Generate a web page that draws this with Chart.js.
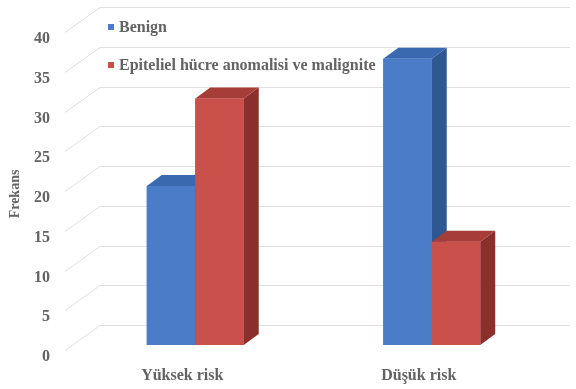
<!DOCTYPE html>
<html>
<head>
<meta charset="utf-8">
<script src="https://cdn.jsdelivr.net/npm/chart.js@4/dist/chart.umd.min.js"></script>
<style>
  html, body { margin: 0; padding: 0; background: #ffffff; }
  #wrap { width: 576px; height: 389px; }
</style>
</head>
<body>
<div id="wrap"><canvas id="chart" width="576" height="389"></canvas></div>
<script>
// Categories and series
const categories = ['Yüksek risk', 'Düşük risk'];
const seriesNames = ['Benign', 'Epiteliel hücre anomalisi ve malignite'];
const benign = [20, 36];
const epiteliel = [31, 13];
const yMin = 0;
const yMax = 40;
const yStep = 5;
const yTitle = 'Frekans';

// Face colours for the pseudo-3D columns: front, top, side
const faces = [
  { front: '#4a7cc7', top: '#3a69b0', side: '#2d5891' },
  { front: '#c9504b', top: '#a63d39', side: '#8a2f2c' }
];

const FONT = '"Liberation Serif", "Times New Roman", serif';
const TEXT = '#636363';
const GRID = '#e0e0e0';

// Depth of each column (oblique projection)
const DX = 15, DY = -11;
// Back wall offset relative to the column front plane
const WALL_X = 100, WALL_RIGHT = 570, WALL_DY = -20;
const FLOOR_X = 65, FLOOR_DY = 5;

const wallPlugin = {
  id: 'wall',
  beforeDatasetsDraw(chart) {
    const ctx = chart.ctx;
    const y = chart.scales.y;
    ctx.save();
    ctx.strokeStyle = GRID;
    ctx.lineWidth = 1;
    y.ticks.forEach(t => {
      const py = Math.round(y.getPixelForValue(t.value)) + 0.5;
      ctx.beginPath();
      ctx.moveTo(FLOOR_X, py + FLOOR_DY);
      ctx.lineTo(WALL_X, py + WALL_DY);
      ctx.lineTo(WALL_RIGHT, py + WALL_DY);
      ctx.stroke();
    });
    ctx.restore();
  }
};

const columnsPlugin = {
  id: 'columns3d',
  afterDatasetsDraw(chart) {
    const ctx = chart.ctx;
    const n = chart.data.datasets.length;
    const count = chart.data.labels.length;
    ctx.save();
    for (let j = 0; j < count; j++) {
      for (let i = 0; i < n; i++) {
        const bar = chart.getDatasetMeta(i).data[j];
        const { x, y, base, width } = bar.getProps(['x', 'y', 'base', 'width'], true);
        const l = x - width / 2, r = x + width / 2;
        const c = faces[i];
        // side face
        ctx.fillStyle = c.side;
        ctx.beginPath();
        ctx.moveTo(r, y);
        ctx.lineTo(r + DX, y + DY);
        ctx.lineTo(r + DX, base + DY);
        ctx.lineTo(r, base);
        ctx.closePath();
        ctx.fill();
        // top face
        ctx.fillStyle = c.top;
        ctx.beginPath();
        ctx.moveTo(l, y);
        ctx.lineTo(l + DX, y + DY);
        ctx.lineTo(r + DX, y + DY);
        ctx.lineTo(r, y);
        ctx.closePath();
        ctx.fill();
        // front face
        ctx.fillStyle = c.front;
        ctx.fillRect(l, y, width, base - y);
      }
    }
    ctx.restore();
  }
};

const legendPlugin = {
  id: 'insideLegend',
  afterDraw(chart) {
    const ctx = chart.ctx;
    ctx.save();
    ctx.font = 'bold 16px ' + FONT;
    ctx.textBaseline = 'middle';
    ctx.textAlign = 'left';
    chart.data.datasets.forEach((ds, i) => {
      const cy = 27 + i * 38;
      ctx.fillStyle = ds.backgroundColor;
      ctx.fillRect(108, cy - 3, 6, 6);
      ctx.fillStyle = TEXT;
      ctx.fillText(ds.label, 119, cy + 1);
    });
    // vertical axis title
    ctx.translate(15, 194);
    ctx.rotate(-Math.PI / 2);
    ctx.font = 'bold 14px ' + FONT;
    ctx.textAlign = 'center';
    ctx.fillText(yTitle, 0, 0);
    ctx.restore();
  }
};

new Chart(document.getElementById('chart'), {
  type: 'bar',
  data: {
    labels: categories,
    datasets: [
      { label: seriesNames[0], data: benign, backgroundColor: faces[0].front },
      { label: seriesNames[1], data: epiteliel, backgroundColor: faces[1].front }
    ]
  },
  options: {
    responsive: false,
    animation: false,
    devicePixelRatio: 1,
    layout: { padding: { left: 0, right: 26, top: 27, bottom: 0 } },
    datasets: { bar: { categoryPercentage: 0.41, barPercentage: 1.0, borderWidth: 0 } },
    plugins: {
      legend: { display: false },
      tooltip: { enabled: false }
    },
    scales: {
      x: {
        grid: { display: false, drawTicks: false },
        border: { display: false },
        ticks: {
          color: TEXT,
          font: { family: FONT, size: 16, weight: 'bold' },
          padding: 21,
          labelOffset: -13
        },
        afterFit(s) { s.height = 44; s.paddingLeft = 0; s.paddingRight = 0; }
      },
      y: {
        min: yMin,
        max: yMax,
        grid: { display: false, drawTicks: false },
        border: { display: false },
        ticks: {
          stepSize: yStep,
          color: TEXT,
          font: { family: FONT, size: 16, weight: 'bold' },
          padding: 27,
          labelOffset: 12
        },
        afterFit(s) { s.width = 77; s.paddingTop = 0; s.paddingBottom = 0; }
      }
    }
  },
  plugins: [wallPlugin, columnsPlugin, legendPlugin]
});
</script>
</body>
</html>
